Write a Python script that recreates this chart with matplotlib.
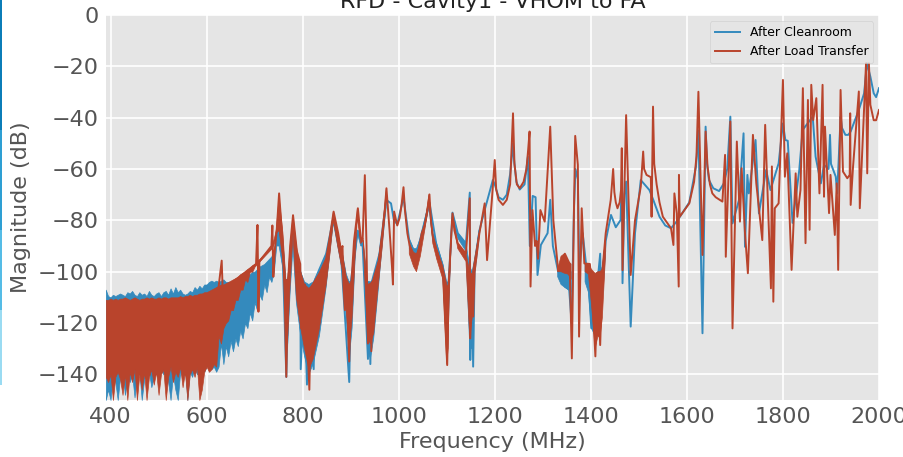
import matplotlib
matplotlib.use('Agg')
import matplotlib.pyplot as plt
from matplotlib.patches import Rectangle

plt.style.use('ggplot')

nan = float('nan')
blue = '#348ABD'
red = '#B9442C'

xticks = [400, 600, 800, 1000, 1200, 1400, 1600, 1800, 2000]
yticks = [-140, -120, -100, -80, -60, -40, -20, 0]

# noisy floor below about 745 MHz, upper and lower edge
noise_freq = [390, 395, 400, 405, 410, 415, 420, 425, 430, 435, 440, 445, 450, 455, 460, 465, 470, 475,
              480, 485, 490, 495, 500, 505, 510, 515, 520, 525, 530, 535, 540, 545, 550, 555, 560, 565,
              570, 575, 580, 585, 590, 595, 600, 605, 610, 615, 620, 625, 630, 635, 640, 645, 650, 655,
              660, 665, 670, 675, 680, 685, 690, 695, 700, 705, 710, 715, 720, 725, 730, 735, 740, 745]
red_noise_hi = [-111, -111, -110.5, -111, -110.5, -111, -110.5, -110.5, -110, -110.5, -111, -110.5, -110,
                -110.5, -111, -110.5, -110.5, -110, -110.5, -110, -110.5, -110.5, -110, -110.5, -110, -110,
                -110.5, -110, -110, -110, -110, -109.5, -110, -109.5, -109.5, -109, -109.5, -109, -109,
                -108.5, -108.5, -108, -108, -107.5, -107, -106.5, -106, -105.5, -105, -105, -104.5, -104,
                -103.5, -103, -102.5, -102, -101, -100.5, -100, -99, -98.5, -97.5, -97, -96, -95, -94, -93,
                -92, -91, -90, -87, -83]
red_noise_lo = [-141, -143, -140, -150, -141, -139, -142, -148, -140, -150, -139, -143, -138, -150, -140,
                -146, -139, -150, -141, -138, -144, -139, -148, -140, -138, -150, -141, -137, -143, -139,
                -141, -137, -145, -139, -150, -140, -138, -141, -137, -150, -146, -139, -137, -139, -138,
                -136, -137, -125, -128, -122, -120, -119, -115, -115, -111, -111, -107, -107, -103, -104,
                -100, -100, -98, -97, -96, -95, -94, -93, -92, -91, -89, -85]
blue_noise_hi = [-107, -109.5, -110, -109, -109.5, -109, -108.5, -109, -109.5, -108, -108.5, -107.5, -109,
                 -109.5, -108, -109, -108.5, -109.5, -107.5, -109, -109.5, -108.5, -108, -109.5, -108, -107.5,
                 -109, -106.5, -108.5, -106, -108, -107, -108.5, -109, -108.5, -107.5, -108, -106, -107,
                 -105.5, -106.5, -105, -105, -104, -103.5, -104, -103.5, -104, -103.5, -103, -104, -104,
                 -104.5, -104, -104, -103.5, -103, -102.5, -102, -101, -101, -100, -100, -99, -98, -97.5,
                 -97, -96, -95, -94, -91, -87]
blue_noise_lo = [-150, -146, -150, -141, -143, -150, -141, -139, -148, -141, -143, -140, -149, -141, -139,
                 -150, -142, -140, -139, -145, -141, -139, -143, -138, -140, -139, -143, -150, -140, -146,
                 -150, -139, -141, -138, -150, -139, -141, -137, -140, -138, -136, -139, -137, -136, -138,
                 -137, -139, -137, -128, -136, -129, -133, -127, -131, -126, -129, -123, -126, -120, -122,
                 -116, -119, -112, -115, -109, -111, -105, -108, -102, -104, -100, -90]

# thicker parts of the traces further up in frequency, nan leaves a gap
band_freq = [745, 751, 759, 765, 769, 774, 780, 787, 796, 804, 813, 822, 835, 849, 857, 864, 873, 883, 891,
             897, 903, 909, 914, 921, 926, 935, 941, 948, 956, 966, 974, 1000, 1022, 1031, 1037, 1045, 1055,
             1063, 1071, 1079, 1092, 1100, 1103, 1105, 1110, 1112, 1123, 1140, 1148, 1153, 1158, 1167, 1250,
             1331, 1338, 1345, 1353, 1359, 1375, 1388, 1395, 1401, 1409, 1415, 1419, 1424, 1431]
red_band_hi = [-84, -71, -85, -103, -103, -90, -78, -90, -100, -105, -106.5, -105, -100.7, -95, -87, -76.6,
               -85, -93, -102, -105, -103, -88, -75.3, -87, -87, -105, -104.5, -103, -98, -84, -68, nan,
               -89, -92.5, -93, -89, -80, -70, -86, -91, -98, -105, -106, -100, -82, -77.3, -89, -93, -100,
               -101, -95, -85, nan, -99, -94, -93, -96, -97, nan, -97, -97, -99, -100.7, -100, -100, -99, -86]
red_band_lo = [-85, -84, -96, -122, -125, -105, -85, -110, -122, -130, -138, -134, -122, -105, -93, -80,
               -90, -100, -115, -130, -118, -95, -79, -89, -88, -126, -128, -124, -108, -90, -72, nan,
               -93, -98, -100, -94, -83, -73, -89, -95, -103, -136, -130, -110, -85, -79, -91, -96, -126,
               -118, -100, -87, nan, -100, -100, -100.6, -101, -103, nan, -100, -101, -112, -130, -125, -126,
               -118, -92]
blue_band_hi = [-89, -80, -88, -103, -103, -92, -84, -94, -100, -104, -105, -104, -99.5, -93, -86, -79,
                -86, -93, -101, -104, -103, -88, -84, -88, -89, -104, -104, -103, -97, -84, -72, nan,
                -87, -91, -91, -87, -79, -73, -85, -89, -97, -104, -104, -100, -82, -77, -85, -89, -98,
                -100, -95, -84, nan, -99, -96, -97, -99, -100, nan, -97, -98, -100, -101, -100, -100, -98, -87]
blue_band_lo = [-90, -90, -99, -125, -128, -108, -90, -112, -125, -133, -140, -136, -125, -106, -92, -81,
                -90, -100, -118, -134, -122, -96, -85, -90, -90, -130, -134, -126, -110, -89, -75, nan,
                -91, -95, -96, -91, -82, -75, -88, -93, -102, -130, -125, -110, -85, -79, -87, -92, -130,
                -130, -100, -86, nan, -102, -105, -106, -107, -108, nan, -104, -108, -122, -125, -122, -118,
                -112, -92]

# resonance peaks and notches
red_freq = [625, 631.5, 633.5, 703, 706, 708, 710, 735, 737, 739, 742, 746, 751, 757, 762, 766, 770, 774, 780,
            788, 795, 797, 805, 814, 818, 835, 849, 857, 864.5, 874, 880, 883, 885, 888, 891, 897, 901, 907,
            915, 921, 925, 929.5, 933, 936, 941, 943, 946,
            959, 967, 971, 974.5, 981, 986, 988, 990.5, 997, 1002, 1006, 1010, 1013, 1018, 1023, 1036, 1048, 1054,
            1060, 1064, 1067, 1071, 1078, 1092, 1101, 1104, 1112, 1116, 1123, 1140, 1148, 1149, 1153, 1155, 1158,
            1168, 1179, 1184, 1194, 1200, 1203, 1208, 1217, 1225, 1232, 1238, 1241, 1246, 1252, 1260, 1266, 1269.5,
            1272.5, 1274.5, 1278.5, 1284, 1287, 1290, 1295, 1304, 1315.5, 1322, 1332, 1346, 1356, 1360.5, 1365,
            1367.5, 1373, 1375.5, 1381, 1386.5, 1398, 1402, 1409.5, 1414, 1419.5, 1424,
            1431, 1441.5, 1446.5, 1449, 1452, 1455.5, 1460, 1463, 1464.5, 1466, 1470, 1473.5, 1483, 1492, 1504, 1509,
            1511, 1516, 1525, 1526.5, 1529.5, 1532, 1537, 1543, 1550, 1567, 1572, 1574, 1579, 1583, 1583.5, 1585,
            1605, 1615, 1620, 1624, 1632.5, 1639, 1643, 1648, 1653, 1660, 1674,
            1679.5, 1681, 1690.5, 1695, 1704, 1710.5, 1714, 1721, 1727, 1737.5, 1744.5, 1757, 1763, 1775, 1777, 1780,
            1783, 1791, 1800, 1804, 1809, 1818, 1826.5, 1830, 1836.5, 1841.5, 1847, 1852, 1855.5, 1859, 1863,
            1869.5, 1876, 1882.5, 1885.5, 1887.5, 1896, 1899, 1908, 1912, 1915, 1920, 1925, 1934, 1939, 1940,
            1941, 1946, 1958, 1960, 1968.5, 1973, 1975.5, 1979, 1982, 1989, 1994, 2000]
red_db = [-106, -95.7, -107, -97, -81.8, -115.6, -96, -90, -82, -102, -92, -84, -69.5, -85, -103, -141, -103,
          -90, -78, -92, -97, -122, -105, -146, -106, -100.7, -95, -86, -76.6, -85, -92, -90, -105, -115, -104,
          -135, -106, -88, -75.3, -87, -87, -62.4, -90, -128, -105, -131, -104,
          -95.5, -83, -76, -67.5, -84, -98, -105, -76.6, -82, -79, -74, -67.1, -76, -85, -90, -97, -85, -82,
          -76, -69.9, -80, -86, -91, -100, -136.4, -105, -77.3, -84, -89, -93, -71.4, -126, -105, -117.5, -100,
          -85, -73.4, -95.5, -72, -56.5, -68, -72, -74, -72, -66, -38.3, -58, -66, -67.5, -65, -60, -52.6,
          -45.4, -105.8, -76, -90, -88, -95, -76, -80.5, -43.5, -80, -99.4, -93, -97, -133.8, -75,
          -47.1, -58.4, -125.3, -75.3, -96.8, -97, -105, -133, -102, -128.6, -100,
          -85, -72, -60, -69, -73, -75.3, -73, -68, -51.9, -99.4, -68, -39, -101.3, -80, -66.9, -53.2,
          -60, -62.3, -63.2, -78.6, -35.7, -58, -66, -73, -78.6, -83.1, -89.6, -69.5, -77.3, -105.8, -62.3, -78.6,
          -73.4, -65, -55, -29.9, -93.5, -45.4, -59, -66, -69.5, -71, -72.7,
          -54.5, -94.2, -41.5, -122.1, -49.3, -80.5, -59.7, -85, -100.6, -46.7, -65.6, -87.7, -42.8, -106.5, -59,
          -111.7, -75.3, -73.4, -25.3, -63, -53.9, -99.3, -61.7, -78.6, -68.2, -28.5, -88.9, -33.1, -83.7,
          -27.2, -40.9, -32.4, -69.5, -27.2, -70.8, -43.5, -77.2, -62.3, -85.7, -65.6, -99.3, -29.2, -61,
          -63.6, -62.3, -38.3, -74, -59, -29.8, -75.3, -38.3, -18.8, -61.7, -18.8, -35, -41, -41, -37]

blue_freq = [746, 752, 758, 766, 771, 780, 788, 795, 796, 803, 809, 812, 823, 826, 835, 849, 864, 880, 897, 901,
             915, 925, 936, 938, 941, 944, 960, 974, 984, 990, 997, 1010, 1022, 1036, 1048, 1064, 1078, 1092,
             1101, 1104, 1112, 1123, 1140, 1148, 1149, 1152, 1155, 1158, 1168, 1179,
             1196, 1200, 1208, 1217, 1225, 1232, 1238, 1240, 1245, 1252, 1262, 1266, 1269,
             1273, 1279, 1285, 1289, 1296, 1310, 1315.5, 1321, 1332, 1340, 1346, 1355,
             1360, 1365, 1368, 1373, 1376, 1383, 1390, 1396, 1401, 1404, 1410, 1414, 1419.5, 1421, 1431, 1442,
             1452, 1462, 1465, 1466, 1470, 1473.5, 1483, 1492, 1504, 1522, 1530, 1543, 1555, 1567, 1581, 1605, 1619,
             1624, 1632.5, 1639, 1642, 1646, 1655, 1667, 1677, 1684, 1690.5, 1695, 1708.5, 1718, 1721, 1726, 1729,
             1743, 1750, 1765, 1774, 1791, 1800, 1805, 1810, 1820, 1834, 1841, 1862, 1868, 1879, 1885.5, 1895, 1898,
             1900, 1910, 1913, 1920, 1923, 1930, 1936, 1941, 1958, 1969, 1975, 1982, 1989, 1994, 2000]
blue_db = [-89, -80, -90, -141, -103, -84, -97, -100, -138, -105, -144, -106, -138, -103, -99, -93, -79, -94,
           -143, -103, -84, -90, -134, -104, -136, -104, -93, -72, -73.4, -80, -81.5, -71, -88, -94, -85, -73,
           -89, -98, -130, -104, -77, -85, -89, -69.2, -134.4, -100, -137, -100, -84, -76,
           -64.3, -66, -71, -72, -70, -62, -50, -56, -65, -68, -66, -60, -55.2,
           -90, -70.5, -71, -101.3, -89.6, -85, -72, -90, -100, -100, -105.8, -107,
           -120, -75, -60, -64, -100, -85, -97, -106, -122, -105, -125, -104, -93, -110, -88, -77.9,
           -82.7, -79.9, -60, -104.5, -70, -64.9, -121.4, -85, -64.3, -68.2, -72, -78.6, -82, -83.1, -79.9, -73, -59,
           -45, -124, -43.5, -58, -64.3, -67.5, -68.6, -65.6, -60, -39.6, -81.2, -72.1, -46.1, -90.3, -62.3, -69.5,
           -48.7, -77.3, -60.4, -68.2, -57.8, -42.2, -48.7, -49, -81, -60.4, -44.8, -39.6, -55.2, -65.6, -58.4, -60, -46.7,
           -58, -63, -69.5, -39.6, -44, -46.7, -46.7, -45.4, -37, -30.5, -18.8, -24, -30.5, -32, -28.5]

fig = plt.figure(figsize=(9.04, 4.57), dpi=100, facecolor='white')
ax = fig.add_axes([106/904, 1-400/457, 773/904, 385/457])

# bright strip of the slide along the left edge
for top, bot, c in [(0, 130, '#0B7DB8'), (130, 230, '#2E9FD3'), (230, 310, '#55BCE6'), (310, 385, '#9ADBF2')]:
    fig.add_artist(Rectangle((0, 1-bot/457), 2/904, (bot-top)/457, transform=fig.transFigure,
                             facecolor=c, edgecolor='none'))

ax.fill_between(noise_freq, blue_noise_lo, blue_noise_hi, color=blue, lw=0.5, zorder=2)
ax.fill_between(band_freq, blue_band_lo, blue_band_hi, color=blue, lw=0.5, zorder=2)
ax.plot(blue_freq, blue_db, color=blue, lw=1.4, label='After Cleanroom', zorder=2)

ax.fill_between(noise_freq, red_noise_lo, red_noise_hi, color=red, lw=0.5, zorder=3)
ax.fill_between(band_freq, red_band_lo, red_band_hi, color=red, lw=0.5, zorder=3)
ax.plot(red_freq, red_db, color=red, lw=1.4, label='After Load Transfer', zorder=3)

ax.set_xlim(390.6, 2000)
ax.set_ylim(-150, 0)
ax.set_xticks(xticks)
ax.set_yticks(yticks)
ax.tick_params(labelsize=16, length=0, pad=5, labelcolor='#555555')
ax.grid(True, color='white', lw=1.2)
ax.set_axisbelow(True)
for s in ax.spines.values():
    s.set_visible(False)

ax.set_xlabel('Frequency (MHz)', fontsize=16, color='#555555')
ax.set_ylabel('Magnitude (dB)', fontsize=16, color='#555555')
ax.xaxis.set_label_coords(0.5, -0.083)
ax.yaxis.set_label_coords(-0.097, 0.5)
ax.set_title('RFD - Cavity1 - VHOM to FA', fontsize=16, color='#222222', pad=5)

ax.legend(loc='upper right', bbox_to_anchor=(0.9925, 0.984), fontsize=9, facecolor='#E5E5E5',
          framealpha=0.8, borderaxespad=0)

fig.savefig('out.png', dpi=100)
